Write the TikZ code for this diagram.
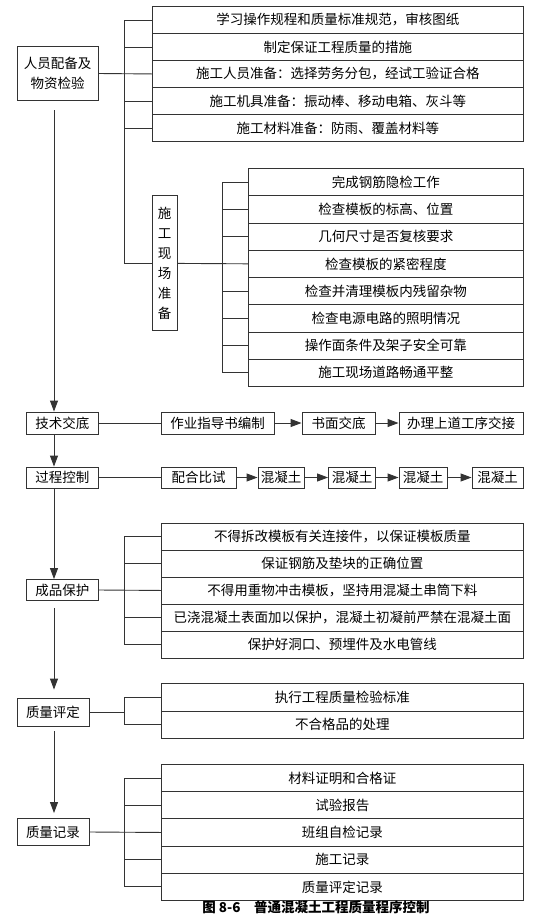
\documentclass[tikz,border=0pt]{standalone}
\usepackage{fontspec}
\setmainfont{Noto Sans CJK SC}
\usetikzlibrary{arrows.meta}

\tikzset{
  box/.style={draw=black!80, line width=0.9pt, inner sep=0pt, align=center, font=\fontsize{13.5}{20}\selectfont},
  rowbox/.style={box, anchor=north west, minimum height=27pt},
  link/.style={draw=black!80, line width=0.9pt},
  flow/.style={link, -{Triangle[length=11pt,width=8pt]}},
}

\begin{document}
\begin{tikzpicture}[x=1pt,y=-1pt]

\useasboundingbox (0,0) rectangle (553,922);

\coordinate (sp) at (54,0);
\coordinate (bx) at (124,0);
\coordinate (bx2) at (222,0);

\node[box, minimum width=81pt, minimum height=54pt] (p1) at (57.5,73.5) {人员配备及\\物资检验};
\node[box, minimum width=25pt, minimum height=135pt, font=\fontsize{13.5}{20}\selectfont] (sg) at (164.5,263.4) {施\\工\\现\\场\\准\\备};
\node[box, minimum width=71.5pt, minimum height=22pt] (t1) at (62.25,423) {技术交底};
\node[box, minimum width=71.5pt, minimum height=21pt] (t2) at (62.25,477.5) {过程控制};
\node[box, minimum width=71.5pt, minimum height=21pt] (t3) at (62.25,590) {成品保护};
\node[box, minimum width=72pt, minimum height=28pt] (t4) at (53,712) {质量评定};
\node[box, minimum width=72pt, minimum height=27pt] (t5) at (53,832) {质量记录};

\node[rowbox, minimum width=371pt] (a1) at (152,6) {学习操作规程和质量标准规范，审核图纸};
\node[rowbox, minimum width=371pt] (a2) at (152,33) {制定保证工程质量的措施};
\node[rowbox, minimum width=371pt] (a3) at (152,60) {施工人员准备：选择劳务分包，经试工验证合格};
\node[rowbox, minimum width=371pt] (a4) at (152,87) {施工机具准备：振动棒、移动电箱、灰斗等};
\node[rowbox, minimum width=371pt] (a5) at (152,114) {施工材料准备：防雨、覆盖材料等};

\node[rowbox, minimum width=275pt, minimum height=27.25pt] (b1) at (248,168) {完成钢筋隐检工作};
\node[rowbox, minimum width=275pt, minimum height=27.25pt] (b2) at (248,195.25) {检查模板的标高、位置};
\node[rowbox, minimum width=275pt, minimum height=27.25pt] (b3) at (248,222.5) {几何尺寸是否复核要求};
\node[rowbox, minimum width=275pt, minimum height=27.25pt] (b4) at (248,249.75) {检查模板的紧密程度};
\node[rowbox, minimum width=275pt, minimum height=27.25pt] (b5) at (248,277) {检查并清理模板内残留杂物};
\node[rowbox, minimum width=275pt, minimum height=27.25pt] (b6) at (248,304.25) {检查电源电路的照明情况};
\node[rowbox, minimum width=275pt, minimum height=27.25pt] (b7) at (248,331.5) {操作面条件及架子安全可靠};
\node[rowbox, minimum width=275pt, minimum height=27.25pt] (b8) at (248,358.75) {施工现场道路畅通平整};

\node[box, minimum width=113pt, minimum height=22pt] (f1) at (217.5,423) {作业指导书编制};
\node[box, minimum width=73pt, minimum height=22pt] (f2) at (338.5,423) {书面交底};
\node[box, minimum width=124pt, minimum height=22pt] (f3) at (461,423) {办理上道工序交接};

\node[box, minimum width=75pt, minimum height=21pt] (g1) at (198.5,477.5) {配合比试};
\node[box, minimum width=46pt, minimum height=21pt] (g2) at (281,477.5) {混凝土};
\node[box, minimum width=47pt, minimum height=21pt] (g3) at (352,477.5) {混凝土};
\node[box, minimum width=48pt, minimum height=21pt] (g4) at (423,477.5) {混凝土};
\node[box, minimum width=51pt, minimum height=21pt] (g5) at (497.5,477.5) {混凝土};

\node[rowbox, minimum width=362pt] (c1) at (161,522.5) {不得拆改模板有关连接件，以保证模板质量};
\node[rowbox, minimum width=362pt] (c2) at (161,549.5) {保证钢筋及垫块的正确位置};
\node[rowbox, minimum width=362pt] (c3) at (161,576.5) {不得用重物冲击模板，坚持用混凝土串筒下料};
\node[rowbox, minimum width=362pt] (c4) at (161,603.5) {已浇混凝土表面加以保护，混凝土初凝前严禁在混凝土面};
\node[rowbox, minimum width=362pt] (c5) at (161,630.5) {保护好洞口、预埋件及水电管线};

\node[rowbox, minimum width=362pt, minimum height=27.5pt] (d1) at (161,683) {执行工程质量检验标准};
\node[rowbox, minimum width=362pt, minimum height=27.5pt] (d2) at (161,710.5) {不合格品的处理};

\node[rowbox, minimum width=362pt, minimum height=27.2pt] (e1) at (161,764) {材料证明和合格证};
\node[rowbox, minimum width=362pt, minimum height=27.2pt] (e2) at (161,791.2) {试验报告};
\node[rowbox, minimum width=362pt, minimum height=27.2pt] (e3) at (161,818.4) {班组自检记录};
\node[rowbox, minimum width=362pt, minimum height=27.2pt] (e4) at (161,845.6) {施工记录};
\node[rowbox, minimum width=362pt, minimum height=27.2pt] (e5) at (161,872.8) {质量评定记录};

\node[font=\bfseries\fontsize{13.5}{16}\selectfont] (cap) at (316,907) {图 8-6\quad 普通混凝土工程质量程序控制};

\draw[link] (p1.east) -- (a3.west);
\draw[link] (a1.west) -- (a1.west -| bx) -- (sg.west -| bx) -- (sg.west);
\draw[link] (a2.west) -- (a2.west -| bx);
\draw[link] (a4.west) -- (a4.west -| bx);
\draw[link] (a5.west) -- (a5.west -| bx);

\draw[link] (sg.east) -- (b4.west);
\draw[link] (b1.west) -- (b1.west -| bx2) -- (b8.west -| bx2) -- (b8.west);
\draw[link] (b2.west) -- (b2.west -| bx2);
\draw[link] (b3.west) -- (b3.west -| bx2);
\draw[link] (b5.west) -- (b5.west -| bx2);
\draw[link] (b6.west) -- (b6.west -| bx2);
\draw[link] (b7.west) -- (b7.west -| bx2);

\draw[link] (t1) -- (f1);
\draw[flow] (f1) -- (f2);
\draw[flow] (f2) -- (f3);

\draw[link] (t2) -- (g1);
\draw[flow] (g1) -- (g2);
\draw[flow] (g2) -- (g3);
\draw[flow] (g3) -- (g4);
\draw[flow] (g4) -- (g5);

\draw[link] (t3.east) -- (c3.west);
\draw[link] (c1.west) -- (c1.west -| bx) -- (c5.west -| bx) -- (c5.west);
\draw[link] (c2.west) -- (c2.west -| bx);
\draw[link] (c4.west) -- (c4.west -| bx);

\draw[link] (t4.east) -- (t4.east -| bx);
\draw[link] (d1.west) -- (d1.west -| bx) -- (d2.west -| bx) -- (d2.west);

\draw[link] (t5.east) -- (e3.west);
\draw[link] (e1.west) -- (e1.west -| bx) -- (e5.west -| bx) -- (e5.west);
\draw[link] (e2.west) -- (e2.west -| bx);
\draw[link] (e4.west) -- (e4.west -| bx);

\draw[flow, shorten <=9.5pt] (p1.south -| sp) -- (t1.north -| sp);
\draw[flow] (t1.south -| sp) -- (t2.north -| sp);
\draw[flow] (t2.south -| sp) -- (t3.north -| sp);
\draw[flow, shorten <=7pt, shorten >=8pt] (t3.south -| sp) -- (t4.north -| sp);
\draw[flow, shorten <=5pt, shorten >=5pt] (t4.south -| sp) -- (t5.north -| sp);

\end{tikzpicture}
\end{document}
